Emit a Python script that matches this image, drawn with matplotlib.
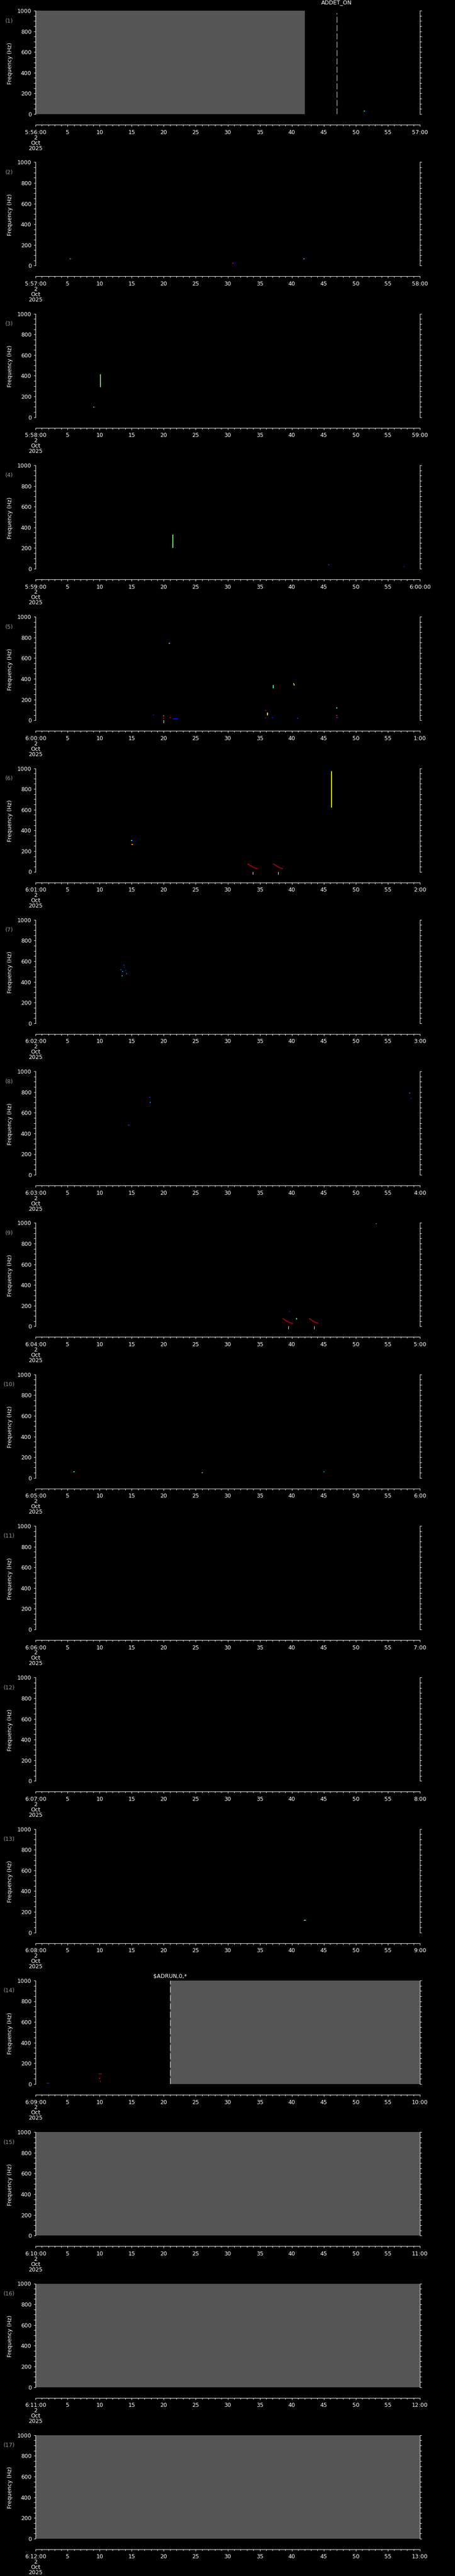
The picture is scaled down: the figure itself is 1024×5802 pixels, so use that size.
import numpy as np
import matplotlib
matplotlib.use('Agg')
import matplotlib.pyplot as plt
from matplotlib.ticker import MultipleLocator
from matplotlib.patches import Rectangle

# ---------------- data ----------------
start_labels = ['5:56:00', '5:57:00', '5:58:00', '5:59:00', '6:00:00', '6:01:00',
                '6:02:00', '6:03:00', '6:04:00', '6:05:00', '6:06:00', '6:07:00',
                '6:08:00', '6:09:00', '6:10:00', '6:11:00', '6:12:00']
end_labels = ['57:00', '58:00', '59:00', '6:00:00', '1:00', '2:00', '3:00', '4:00',
              '5:00', '6:00', '7:00', '8:00', '9:00', '10:00', '11:00', '12:00', '13:00']
date_lines = ['2', 'Oct', '2025']

# no-data (gray) spans: panel, start s, end s
gap_panel = [1, 14, 15, 16, 17]
gap_t0 = [0, 21, 0, 0, 0]
gap_t1 = [42, 60, 60, 60, 60]

# event markers (dashed lines + labels)
event_panel = [1, 14]
event_t = [47.0, 21.0]
event_text = ['ADDET_ON', r'\$ADRUN,0,*']

# spectrogram spots: panel, time (s), frequency (Hz), colour level (0-1, jet)
spot_panel = [1, 1,
              2, 2, 2, 2, 2, 2,
              3, 3,
              4, 4,
              5, 5, 5, 5, 5, 5, 5, 5, 5, 5, 5, 5, 5, 5, 5, 5,
              6, 6, 6, 6,
              7, 7, 7, 7, 7, 7, 7,
              8, 8, 8, 8, 8, 8,
              9, 9,
              10, 10, 10,
              13, 13,
              14, 14, 14, 14, 14, 14]
spot_t = [51.3, 51.6,
          5.4, 5.6, 30.8, 31.1, 41.9, 42.1,
          9.1, 9.3,
          45.8, 57.5,
          20.9, 21.1, 40.3, 40.4, 18.4, 20.0, 20.0, 21.0, 35.9, 35.9, 37.0, 40.9, 47.0, 47.0, 47.0, 47.2,
          15.0, 15.1, 15.0, 15.1,
          13.3, 13.6, 13.9, 14.2, 13.5, 13.8, 14.1,
          17.8, 17.9, 14.5, 14.6, 58.4, 58.6,
          53.2, 39.7,
          6.0, 26.0, 45.0,
          42.0, 42.2,
          1.9, 2.1, 10.0, 10.2, 10.0, 10.1]
spot_f = [30, 30,
          66, 64, 21, 21, 64, 64,
          99, 99,
          40, 20,
          742, 742, 352, 342, 51, 43, 17, 25, 94, 23, 25, 20, 119, 46, 25, 25,
          302, 302, 262, 262,
          520, 500, 540, 480, 460, 560, 510,
          750, 700, 480, 480, 790, 740,
          995, 142,
          60, 50, 60,
          120, 120,
          10, 10, 99, 99, 56, 26]
spot_v = [0.5, 0.12,
          0.35, 0.12, 0.9, 0.12, 0.35, 0.12,
          0.4, 0.15,
          0.2, 0.15,
          0.55, 0.12, 0.65, 0.6, 0.15, 0.8, 0.9, 0.9, 0.9, 0.95, 0.15, 0.2, 0.4, 0.9, 0.9, 0.15,
          0.5, 0.12, 0.9, 0.65,
          0.2, 0.3, 0.15, 0.25, 0.35, 0.2, 0.15,
          0.2, 0.3, 0.9, 0.15, 0.25, 0.15,
          0.25, 0.15,
          0.4, 0.4, 0.3,
          0.45, 0.3,
          0.9, 0.15, 0.9, 0.9, 0.9, 0.9]

# spectrogram tracks: panel, list of times, list of freqs, colour level
track_panel = [3, 4, 5, 5, 5, 6, 6, 6, 9, 9, 9]
track_t = [[10.1, 10.1], [21.4, 21.4], [37.1, 37.1], [21.4, 22.3], [36.2, 36.2],
           [46.2, 46.2], [33.1, 33.5, 34.0, 34.6], [37.1, 37.5, 38.0, 38.6],
           [38.6, 39.0, 39.6, 40.2], [40.7, 40.8], [42.7, 43.1, 43.6, 44.1]]
track_f = [[416, 292], [330, 200], [339, 309], [13, 13], [72, 49],
           [620, 974], [77, 62, 42, 31], [77, 62, 42, 31],
           [77, 58, 38, 27], [80, 67], [77, 60, 40, 31]]
track_v = [0.5, 0.5, 0.4, 0.15, 0.65, 0.62, 0.95, 0.95, 0.95, 0.45, 0.95]

# white markers under the frequency axis: panel, time (s)
mark_panel = [5, 6, 6, 9, 9]
mark_t = [20.0, 33.9, 37.9, 39.5, 43.5]

# ---------------- layout ----------------
W, H = 1024, 5802
fig = plt.figure(figsize=(W / 100, H / 100), dpi=100, facecolor='black')
plt.rcParams['font.family'] = ['DejaVu Sans']

L, R = 80, 945
PH = 233
PITCH = 341.3
TOP0 = 24
FS = 9
jet = matplotlib.colormaps['jet']
lw = 0.75


def fy(px):
    return 1 - px / H


for i in range(17):
    pnum = i + 1
    top = TOP0 + i * PITCH
    ax = fig.add_axes([L / W, fy(top + PH), (R - L) / W, PH / H])
    ax.set_facecolor('black')
    ax.set_xlim(0, 60)
    ax.set_ylim(0, 1000)
    for s in ['top', 'bottom']:
        ax.spines[s].set_visible(False)
    for s in ['left', 'right']:
        ax.spines[s].set_color('white')
        ax.spines[s].set_linewidth(lw)
    ax.set_xticks([])
    ax.yaxis.set_major_locator(MultipleLocator(200))
    ax.yaxis.set_minor_locator(MultipleLocator(50))
    ax.tick_params(axis='y', which='both', direction='out', colors='white',
                   left=True, right=True, labelright=False, width=lw)
    ax.tick_params(axis='y', which='major', length=3.2, labelsize=FS, pad=3.5)
    ax.tick_params(axis='y', which='minor', length=2.6)

    for p, a, b in zip(gap_panel, gap_t0, gap_t1):
        if p == pnum:
            ax.add_patch(Rectangle((a, 0), b - a, 1000, facecolor='#555555',
                                   edgecolor='none', antialiased=False, zorder=1))

    for p, ts, fs_, v in zip(track_panel, track_t, track_f, track_v):
        if p == pnum:
            ax.plot(ts, fs_, color=jet(v), lw=1.5, solid_capstyle='butt', zorder=3)

    st = [t for p, t in zip(spot_panel, spot_t) if p == pnum]
    sf = [f for p, f in zip(spot_panel, spot_f) if p == pnum]
    sv = [v for p, v in zip(spot_panel, spot_v) if p == pnum]
    if st:
        ax.scatter(st, sf, c=[jet(v) for v in sv], marker='s', s=2.2, linewidths=0, zorder=4)

    for p, t in zip(mark_panel, mark_t):
        if p == pnum:
            ax.plot([t, t], [0, -25], color='white', lw=lw, clip_on=False, zorder=5)

    for p, t, txt in zip(event_panel, event_t, event_text):
        if p == pnum:
            ax.plot([t, t], [0, 978 if p == 1 else 1000], color='white', lw=lw,
                    linestyle=(0, (13, 5)), zorder=6)
            ly = top - 18 if p == 1 else top - 9
            fig.text((L + t / 60 * (R - L)) / W, fy(ly), txt, color='white',
                     fontsize=FS, ha='center', va='center')

    # labels
    fig.text(23 / W, fy(top + PH / 2 + 2), 'Frequency (Hz)', color='white',
             fontsize=FS, rotation=90, ha='center', va='center')
    fig.text(21 / W, fy(top + 23), '(%d)' % pnum, color='#9a9a9a',
             fontsize=FS, ha='center', va='center')

    # time axis
    axt = fig.add_axes([L / W, fy(top + 257), (R - L) / W, 0.5 / H])
    axt.set_facecolor('none')
    for s in ['top', 'left', 'right']:
        axt.spines[s].set_visible(False)
    axt.spines['bottom'].set_color('white')
    axt.spines['bottom'].set_linewidth(lw)
    axt.set_xlim(0, 60)
    axt.set_yticks([])
    ticks = list(range(0, 61, 5))
    axt.set_xticks(ticks)
    labs = [start_labels[i]] + [str(t) for t in ticks[1:-1]] + [end_labels[i]]
    axt.set_xticklabels(labs)
    axt.xaxis.set_minor_locator(MultipleLocator(1))
    axt.tick_params(axis='x', which='both', direction='out', colors='white', width=lw)
    axt.tick_params(axis='x', which='major', length=3.2, labelsize=FS, pad=4.5)
    axt.tick_params(axis='x', which='minor', length=2.2)
    for k, d in enumerate(date_lines):
        fig.text(L / W, fy(top + 286 + 12 * k), d, color='white', fontsize=FS,
                 ha='center', va='center')

fig.savefig('out.png', dpi=100, facecolor='black')
